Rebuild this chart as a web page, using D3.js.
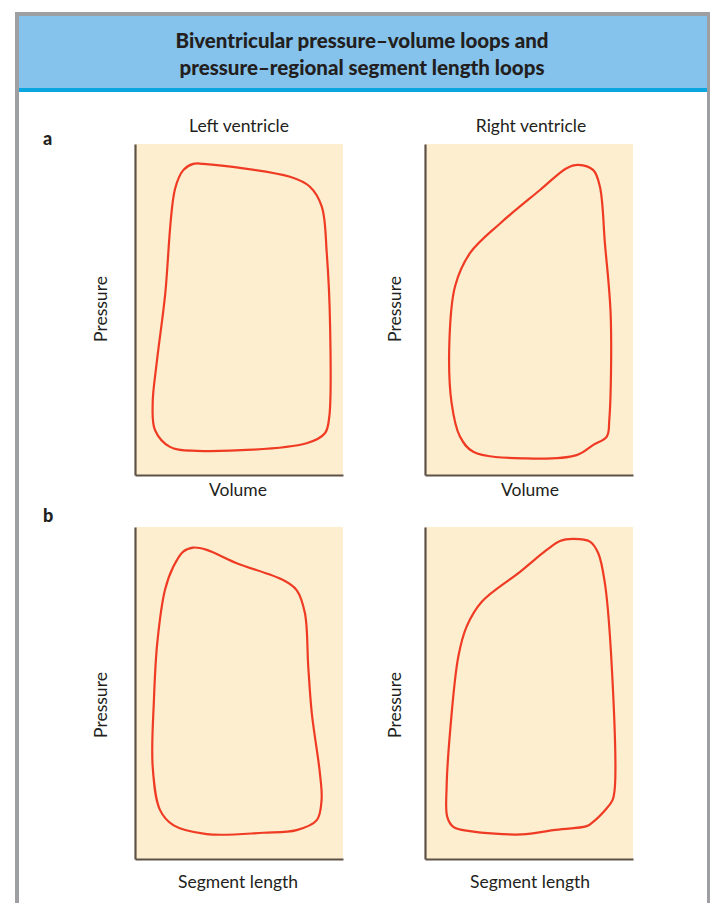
<!DOCTYPE html>
<html>
<head>
<meta charset="utf-8">
<script src="https://cdn.jsdelivr.net/npm/d3@7"></script>
<style>
  html, body { margin: 0; padding: 0; background: #ffffff; }
  svg { display: block; }
</style>
</head>
<body>
<svg id="chart" width="710" height="903"></svg>
<script>
// ---------- DATA (percent of each panel's axis range) ----------
const titleLines = ["Biventricular pressure\u2013volume loops and", "pressure\u2013regional segment length loops"];
const panelLetters = ["a", "b"];
const columnTitles = ["Left ventricle", "Right ventricle"];
const xAxisLabels = ["Volume", "Segment length"];
const yAxisLabel = "Pressure";

// Left ventricle pressure-volume loop  [volume %, pressure %]
const lvVolume   = [19.2, 23.2, 28.0, 32.8, 74.5, 84.1, 89.8, 92.2, 93.8, 93.4, 91.3, 82.5, 29.7, 16.8, 9.6, 8.5, 10.4, 14.4];
const lvPressure = [86.3, 92.1, 94.0, 94.0, 90.1, 87.1, 81.1, 67.0, 44.8, 17.6, 12.6, 9.6, 7.3, 8.5, 13.6, 21.7, 33.7, 53.9];

// Right ventricle pressure-volume loop
const rvVolume   = [73.7, 80.9, 84.1, 86.5, 89.3, 88.6, 87.4, 80.9, 72.9, 48.9, 23.2, 16.8, 12.8, 11.7, 14.4, 21.6, 36.1, 55.3, 68.1];
const rvPressure = [93.7, 92.1, 87.1, 70.0, 47.8, 16.6, 11.6, 9.1, 6.0, 5.0, 7.0, 11.6, 21.7, 39.8, 56.9, 67.0, 76.0, 86.1, 92.7];

// Left ventricle pressure-segment length loop
const lvSegment     = [28.0, 34.5, 48.9, 71.3, 77.7, 81.7, 83.3, 85.0, 88.9, 89.7, 87.4, 77.7, 61.7, 34.5, 18.4, 12.0, 8.5, 9.1, 10.7, 14.4, 18.4, 23.2];
const lvSegPressure = [93.8, 93.1, 89.1, 84.0, 81.0, 74.0, 57.9, 43.9, 25.8, 17.8, 11.7, 8.7, 7.9, 7.5, 10.2, 14.8, 27.8, 47.9, 65.0, 81.0, 88.0, 92.6];

// Right ventricle pressure-segment length loop
const rvSegment     = [71.3, 79.3, 83.3, 86.5, 89.8, 91.3, 90.2, 87.4, 80.1, 77.7, 61.7, 46.5, 21.6, 13.6, 10.7, 10.4, 12.0, 16.0, 20.0, 27.3, 45.7, 58.5, 64.9];
const rvSegPressure = [96.4, 95.6, 92.1, 83.0, 57.9, 21.8, 17.8, 15.3, 10.8, 9.9, 8.7, 7.4, 8.4, 9.7, 12.7, 21.8, 37.9, 60.9, 70.0, 77.5, 86.5, 93.1, 95.8];

// ---------- LAYOUT ----------
const svg = d3.select("#chart");
const FONT = "Lato, 'Open Sans', 'DejaVu Sans', sans-serif";
const textColor = "#231f20";
const labelSize = 17.5;

// frame
svg.append("rect").attr("x", 19).attr("y", 16).attr("width", 688).attr("height", 72).attr("fill", "#85c3ec");
svg.append("rect").attr("x", 19).attr("y", 88).attr("width", 688).attr("height", 4).attr("fill", "#0aa6e0");
svg.append("path")
  .attr("d", "M17,910 L17,14 L709,14 L709,910")
  .attr("fill", "none").attr("stroke", "#9d9fa2").attr("stroke-width", 4);

// title
svg.append("text")
  .attr("x", 362).attr("y", 48)
  .attr("text-anchor", "middle")
  .attr("font-family", FONT).attr("font-weight", 900).attr("font-size", 20.5)
  .attr("fill", textColor)
  .selectAll("tspan").data(titleLines).join("tspan")
  .attr("x", 362).attr("dy", (d, i) => i === 0 ? 0 : 27)
  .text(d => d);

const panels = [
  { row: 0, col: 0, xs: lvVolume,  ys: lvPressure },
  { row: 0, col: 1, xs: rvVolume,  ys: rvPressure },
  { row: 1, col: 0, xs: lvSegment, ys: lvSegPressure },
  { row: 1, col: 1, xs: rvSegment, ys: rvSegPressure }
];
const colLeft = [135, 425];
const rowTop = [144, 527];
const rowBottom = [475, 859];
const plotW = 208;

panels.forEach(p => {
  const x0 = colLeft[p.col], x1 = x0 + plotW;
  const y0 = rowTop[p.row], y1 = rowBottom[p.row];
  const x = d3.scaleLinear().domain([0, 100]).range([x0, x1]);
  const y = d3.scaleLinear().domain([0, 100]).range([y1, y0]);

  const g = svg.append("g");
  g.append("rect")
    .attr("x", x(0)).attr("y", y(100))
    .attr("width", x(100) - x(0)).attr("height", y(0) - y(100))
    .attr("fill", "#fdeecf");

  const pts = p.xs.map((v, i) => [v, p.ys[i]]);
  g.append("path")
    .datum(pts)
    .attr("d", d3.line().x(d => x(d[0])).y(d => y(d[1])).curve(d3.curveCatmullRomClosed.alpha(0.5)))
    .attr("fill", "none").attr("stroke", "#ef3b24").attr("stroke-width", 2.2)
    .attr("stroke-linejoin", "round");

  const ax = g.append("g").attr("transform", `translate(${x(0)},0)`)
    .call(d3.axisLeft(y).tickValues([]).tickSizeOuter(0));
  const bx = g.append("g").attr("transform", `translate(0,${y(0)})`)
    .call(d3.axisBottom(x).tickValues([]).tickSizeOuter(0));
  [ax, bx].forEach(a => a.select(".domain").attr("stroke", "#5e5246").attr("stroke-width", 2.2));

  const cx = p.col === 0 ? (x0 + x1) / 2 - 1 : (x0 + x1) / 2 + 1;

  // x label
  g.append("text")
    .attr("x", cx)
    .attr("y", p.row === 0 ? 496 : 888)
    .attr("text-anchor", "middle")
    .attr("font-family", FONT).attr("font-size", labelSize).attr("fill", textColor)
    .text(xAxisLabels[p.row]);

  // y label
  const ly = p.row === 0 ? 309 : 705;
  const lx = p.col === 0 ? 107 : 401;
  g.append("text")
    .attr("transform", `translate(${lx},${ly}) rotate(-90)`)
    .attr("text-anchor", "middle")
    .attr("font-family", FONT).attr("font-size", labelSize).attr("fill", textColor)
    .text(yAxisLabel);

  if (p.row === 0) {
    g.append("text")
      .attr("x", (x0 + x1) / 2 + (p.col === 1 ? 2 : 0)).attr("y", 132)
      .attr("text-anchor", "middle")
      .attr("font-family", FONT).attr("font-size", labelSize).attr("fill", textColor)
      .text(columnTitles[p.col]);
  }
});

// panel letters
svg.selectAll("text.letter").data(panelLetters).join("text")
  .attr("class", "letter")
  .attr("x", 43).attr("y", (d, i) => i === 0 ? 145 : 522)
  .attr("font-family", FONT).attr("font-weight", 900).attr("font-size", 18)
  .attr("fill", textColor)
  .text(d => d);
</script>
</body>
</html>
